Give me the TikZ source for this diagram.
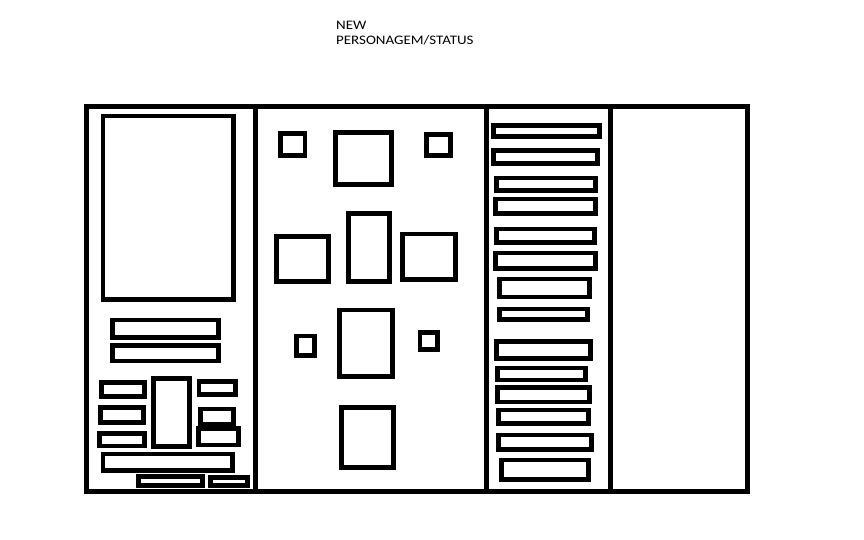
\documentclass[tikz,border=0pt]{standalone}
\usepackage{fontspec}
\setmainfont{Carlito}
\newfontfamily\titlefont[FakeStretch=1.15]{Carlito}
\usetikzlibrary{positioning}
\tikzset{
 frame line/.style={line width=5pt,line cap=rect},
 box line/.style={line width=4.5pt},
 title text/.style={font=\titlefont\fontsize{13}{15}\selectfont,inner sep=0pt,anchor=base west}
}

\begin{document}
\begin{tikzpicture}[x=1pt,y=-1pt]
 \useasboundingbox (0,0) rectangle (864,540);

 % Outer frame and the three dividers.
 \draw[frame line] (86.5,106.5) rectangle (747,491.5);
 \foreach \x in {255,486,610}
   \draw[frame line] (\x,106.5) -- (\x,491.5);

 % Left panel: portrait, bars and small fields.
 \foreach \xa/\ya/\xb/\yb in {103/116/233.5/299.5, 112.3/320/218.4/337.7,
   112.3/345.6/218.4/361, 101.3/382.3/144.4/396.7, 100.6/407.3/143.4/422.7,
   99.6/433.3/144.4/446, 153.3/378.3/189.4/446.7, 199/381.3/235.4/394.4,
   200.6/409/233.4/424.4, 198.3/428.3/238.7/445, 103/454/232.7/470.4,
   138.3/476.3/202.7/485.4, 210.6/477.3/247.7/485.4}
   \draw[box line] (\xa,\ya) rectangle (\xb,\yb);

 % Middle panel: equipment slots.
 \foreach \xa/\ya/\xb/\yb in {280.6/133.3/305/155.4, 335.6/132.3/391.7/184.4,
   426.3/134.6/450.4/155.4, 348.3/213.3/389.4/281.7, 276.3/236.6/328.7/281.7,
   402.3/234/455.7/279.4, 296.3/336/314.4/355.4, 339.6/310/392.7/376.7,
   420/332.3/437.7/349.4, 341.3/407.3/393.7/467.4}
   \draw[box line] (\xa,\ya) rectangle (\xb,\yb);

 % Right panel: list of status rows.
 \foreach \xa/\ya/\xb/\yb in {493.3/125.6/599.4/136.7, 493.3/150.6/597.7/163.7,
   496.3/178/595.4/190.4, 495.6/199/595.4/213.4, 496.3/229/594.4/242.7,
   495.6/253/595.4/268.4, 499.6/279/589.4/297, 499.6/309/587.7/319.4,
   496.6/341.3/590.4/358.4, 497.3/368/585.4/380, 497.3/387.3/589.4/402,
   498.3/410/588.7/423.7, 498.3/435/591.7/449.4, 501.3/460/588.7/479.4}
   \draw[box line] (\xa,\ya) rectangle (\xb,\yb);

 \node[title text] (new) at (336,30) {NEW};
 \node[title text] (status) at (336,45) {PERSONAGEM/STATUS};
\end{tikzpicture}
\end{document}
